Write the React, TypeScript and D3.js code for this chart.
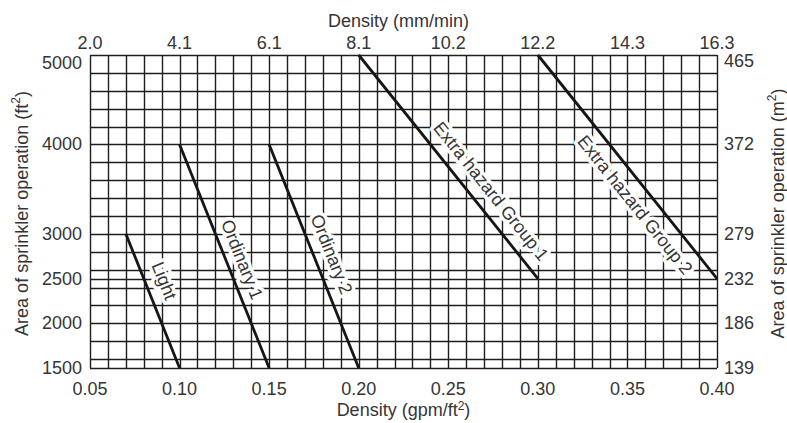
import React from "react";
import * as d3 from "d3";

// Bottom axis: density (gpm/ft²)
const gpmTicks = [0.05, 0.1, 0.15, 0.2, 0.25, 0.3, 0.35, 0.4];
const gpmLabels = ["0.05", "0.10", "0.15", "0.20", "0.25", "0.30", "0.35", "0.40"];
// Top axis: density (mm/min), at the same positions
const mmLabels = ["2.0", "4.1", "6.1", "8.1", "10.2", "12.2", "14.3", "16.3"];
// Left axis: area (ft²)
const ftTicks = [1500, 2000, 2500, 3000, 4000, 5000];
// Right axis: area (m²), at the same positions
const m2Labels = ["139", "186", "232", "279", "372", "465"];
// Grid
const xGridStep = 0.01;
const yGridValues = [1500, 1600, 1800, 2000, 2200, 2400, 2500, 2600, 2800, 3000, 3200, 3400, 3600, 3800, 4000, 4200, 4400, 4600, 4800, 5000];

// Hazard curves
const hazardNames = ["Light", "Ordinary 1", "Ordinary 2", "Extra hazard Group 1", "Extra hazard Group 2"];
const startDensity = [0.07, 0.1, 0.15, 0.2, 0.3];
const startArea = [3000, 4000, 4000, 5000, 5000];
const endDensity = [0.1, 0.15, 0.2, 0.3, 0.4];
const endArea = [1500, 1500, 1500, 2500, 2500];

// label placement along each line (fraction) and perpendicular offset (px)
const labelT = [0.4, 0.54, 0.52, 0.66, 0.62];
const labelOffset = [18, 15, 17, 18, -18];

const W = 787;
const H = 423;
const margin = { left: 90, right: 70, top: 55, bottom: 55 };
const FONT = "'Liberation Sans', Arial, Helvetica, sans-serif";
const TEXT = "#353535";
const FS = 18;

const snap = (v: number) => Math.round(v) + 0.5;

export default function App() {
  const x = d3.scaleLinear().domain([0.05, 0.4]).range([margin.left, W - margin.right]);
  const y = d3.scaleLinear().domain([1500, 5000]).range([H - margin.bottom, margin.top]);
  const xGrid = d3.range(0, 36).map((i) => 0.05 + i * xGridStep);
  const [x0, x1] = x.range();
  const [y0, y1] = y.range();

  const labels = hazardNames.map((name, i) => {
    const px0 = x(startDensity[i]);
    const py0 = y(startArea[i]);
    const px1 = x(endDensity[i]);
    const py1 = y(endArea[i]);
    const dx = px1 - px0;
    const dy = py1 - py0;
    const len = Math.hypot(dx, dy);
    const ang = (Math.atan2(dy, dx) * 180) / Math.PI;
    const ux = dy / len;
    const uy = -dx / len;
    const t = labelT[i];
    const lx = px0 + dx * t + ux * labelOffset[i];
    const ly = py0 + dy * t + uy * labelOffset[i];
    return { name, px0, py0, px1, py1, ang, lx, ly };
  });

  return (
    <svg
      width={W}
      height={H}
      style={{ position: "absolute", left: 0, top: 0, background: "#fff" }}
      fontFamily={FONT}
    >
      <rect x={0} y={0} width={W} height={H} fill="#fff" />
      {/* grid */}
      <g stroke="#1e1e1e" strokeWidth={1.4}>
        {xGrid.map((v, i) => (
          <line key={"gx" + i} x1={snap(x(v))} x2={snap(x(v))} y1={y1} y2={y0} />
        ))}
        {yGridValues.map((v, i) => (
          <line key={"gy" + i} x1={x0} x2={x1} y1={snap(y(v))} y2={snap(y(v))} />
        ))}
      </g>

      {/* label halos (white boxes that break the grid) */}
      {labels.map((l) => (
        <text
          key={"h" + l.name}
          x={l.lx}
          y={l.ly}
          transform={`rotate(${l.ang},${l.lx},${l.ly})`}
          textAnchor="middle"
          dominantBaseline="central"
          fontSize={FS}
          fill="#fff"
          stroke="#fff"
          strokeWidth={7}
          strokeLinejoin="round"
        >
          {l.name}
        </text>
      ))}

      {/* hazard lines and labels */}
      {labels.map((l) => (
        <g key={l.name}>
          <line x1={l.px0} y1={l.py0} x2={l.px1} y2={l.py1} stroke="#151515" strokeWidth={2.8} />
          <text
            x={l.lx}
            y={l.ly}
            transform={`rotate(${l.ang},${l.lx},${l.ly})`}
            textAnchor="middle"
            dominantBaseline="central"
            fontSize={FS}
            fill={TEXT}
          >
            {l.name}
          </text>
        </g>
      ))}

      {/* bottom axis */}
      {gpmTicks.map((v, i) => (
        <text key={"b" + i} x={x(v)} y={y0 + 27} textAnchor="middle" fontSize={FS} fill={TEXT}>
          {gpmLabels[i]}
        </text>
      ))}
      <text x={(x0 + x1) / 2} y={H - 7} textAnchor="middle" fontSize={FS} fill={TEXT}>
        Density (gpm/ft
        <tspan fontSize={12} dy={-6}>2</tspan>
        <tspan dy={6}>)</tspan>
      </text>

      {/* top axis */}
      {gpmTicks.map((v, i) => (
        <text key={"t" + i} x={x(v)} y={y1 - 6} textAnchor="middle" fontSize={FS} fill={TEXT}>
          {mmLabels[i]}
        </text>
      ))}
      <text x={(x0 + x1) / 2 - 5} y={27} textAnchor="middle" fontSize={FS} fill={TEXT}>
        Density (mm/min)
      </text>

      {/* left axis */}
      {ftTicks.map((v, i) => (
        <text
          key={"l" + i}
          x={x0 - 8}
          y={y(v) + (v === 5000 ? 8 : 0)}
          textAnchor="end"
          dominantBaseline="central"
          fontSize={FS}
          fill={TEXT}
        >
          {v}
        </text>
      ))}
      <text
        transform={`translate(22,${(y0 + y1) / 2 + 2}) rotate(-90)`}
        textAnchor="middle"
        dominantBaseline="central"
        fontSize={FS}
        fill={TEXT}
      >
        Area of sprinkler operation (ft
        <tspan fontSize={12} dy={-6}>2</tspan>
        <tspan dy={6}>)</tspan>
      </text>

      {/* right axis */}
      {ftTicks.map((v, i) => (
        <text
          key={"r" + i}
          x={x1 + 7}
          y={y(v) + (v === 5000 ? 6 : 0)}
          dominantBaseline="central"
          fontSize={FS}
          fill={TEXT}
        >
          {m2Labels[i]}
        </text>
      ))}
      <text
        transform={`translate(778,${(y0 + y1) / 2 + 2}) rotate(-90)`}
        textAnchor="middle"
        dominantBaseline="central"
        fontSize={FS}
        fill={TEXT}
      >
        Area of sprinkler operation (m
        <tspan fontSize={12} dy={-6}>2</tspan>
        <tspan dy={6}>)</tspan>
      </text>
    </svg>
  );
}
